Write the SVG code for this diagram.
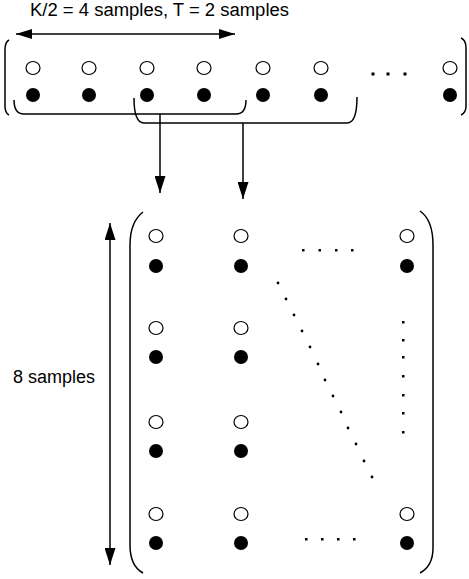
<svg xmlns="http://www.w3.org/2000/svg" width="469" height="579" viewBox="0 0 469 579">
<style>
.t{font-family:"Liberation Sans",Arial,sans-serif;font-size:18px;fill:#000}
.o{fill:#fff;stroke:#000;stroke-width:1.2}
.f{fill:#000}
.ln{fill:none;stroke:#000;stroke-width:1.5}
.d{fill:#000}
</style>
<defs>
<marker id="ahv" markerWidth="17" markerHeight="11" refX="17" refY="5.5" orient="auto-start-reverse" markerUnits="userSpaceOnUse" viewBox="0 0 17 11">
<path d="M0,0 L17,5.5 L0,11 Z" fill="#000"/>
</marker>
<marker id="ah2" markerWidth="16" markerHeight="10" refX="16" refY="5" orient="auto-start-reverse" markerUnits="userSpaceOnUse" viewBox="0 0 16 10">
<path d="M0,0 L16,5 L0,10 Z" fill="#000"/>
</marker>
</defs>

<g id="label-top"><text class="t" x="30" y="16" textLength="259" lengthAdjust="spacingAndGlyphs">K/2 = 4 samples, T = 2 samples</text></g>
<g id="label-left"><text class="t" x="13" y="383">8 samples</text></g>

<g id="sequence">
<path class="ln" d="M9,40 Q5,42 5,50 V106 Q5,113 9,115"/>
<path class="ln" d="M461,38 Q466,40 466,48 V106 Q466,113 461,115"/>
<ellipse class="o" cx="33" cy="68" rx="7" ry="6.5"/><circle class="f" cx="33" cy="95" r="7"/>
<ellipse class="o" cx="89" cy="68" rx="7" ry="6.5"/><circle class="f" cx="89" cy="95" r="7"/>
<ellipse class="o" cx="147" cy="68" rx="7" ry="6.5"/><circle class="f" cx="147" cy="95" r="7"/>
<ellipse class="o" cx="204" cy="68" rx="7" ry="6.5"/><circle class="f" cx="204" cy="95" r="7"/>
<ellipse class="o" cx="263" cy="68" rx="7" ry="6.5"/><circle class="f" cx="263" cy="95" r="7"/>
<ellipse class="o" cx="321" cy="68" rx="7" ry="6.5"/><circle class="f" cx="321" cy="95" r="7"/>
<ellipse class="o" cx="450" cy="68" rx="7" ry="6.5"/><circle class="f" cx="450" cy="95" r="7"/>
<rect class="d" x="371.5" y="72.5" width="3" height="3"/>
<rect class="d" x="386.5" y="72.5" width="3" height="3"/>
<rect class="d" x="403.5" y="72.5" width="3" height="3"/>
</g>

<g id="matrix">
<path class="ln" d="M143,212 Q130,222 130,245 V545 Q130,566 143,573"/>
<path class="ln" d="M420,211 Q433,220 433,245 V548 Q433,566 420,573"/>
<ellipse class="o" cx="156" cy="236" rx="7" ry="6.5"/><circle class="f" cx="156" cy="266" r="7"/>
<ellipse class="o" cx="241" cy="236" rx="7" ry="6.5"/><circle class="f" cx="241" cy="266" r="7"/>
<ellipse class="o" cx="407" cy="236" rx="7" ry="6.5"/><circle class="f" cx="407" cy="266" r="7"/>
<ellipse class="o" cx="156" cy="328" rx="7" ry="6.5"/><circle class="f" cx="156" cy="357" r="7"/>
<ellipse class="o" cx="241" cy="328" rx="7" ry="6.5"/><circle class="f" cx="241" cy="357" r="7"/>
<ellipse class="o" cx="156" cy="422" rx="7" ry="6.5"/><circle class="f" cx="156" cy="451" r="7"/>
<ellipse class="o" cx="241" cy="422" rx="7" ry="6.5"/><circle class="f" cx="241" cy="451" r="7"/>
<ellipse class="o" cx="156" cy="514" rx="7" ry="6.5"/><circle class="f" cx="156" cy="543" r="7"/>
<ellipse class="o" cx="241" cy="514" rx="7" ry="6.5"/><circle class="f" cx="241" cy="543" r="7"/>
<ellipse class="o" cx="407" cy="514" rx="7" ry="6.5"/><circle class="f" cx="407" cy="543" r="7"/>
<g class="d">
<rect x="302" y="249" width="2.5" height="2.5"/><rect x="318.5" y="249" width="2.5" height="2.5"/><rect x="335" y="249" width="2.5" height="2.5"/><rect x="351" y="249" width="2.5" height="2.5"/>
<rect x="305" y="538" width="2.5" height="2.5"/><rect x="321" y="538" width="2.5" height="2.5"/><rect x="337" y="538" width="2.5" height="2.5"/><rect x="353" y="538" width="2.5" height="2.5"/>
<rect x="402" y="321" width="2.5" height="2.5"/><rect x="402" y="339" width="2.5" height="2.5"/><rect x="402" y="356" width="2.5" height="2.5"/><rect x="402" y="375" width="2.5" height="2.5"/><rect x="402" y="394" width="2.5" height="2.5"/><rect x="402" y="412" width="2.5" height="2.5"/><rect x="402" y="431" width="2.5" height="2.5"/>
<circle cx="278" cy="283" r="1.4"/><circle cx="286" cy="299" r="1.4"/><circle cx="294" cy="315" r="1.4"/><circle cx="302" cy="331" r="1.4"/><circle cx="310" cy="347" r="1.4"/><circle cx="318" cy="364" r="1.4"/><circle cx="325" cy="380" r="1.4"/><circle cx="333" cy="396" r="1.4"/><circle cx="341" cy="412" r="1.4"/><circle cx="348" cy="428" r="1.4"/><circle cx="356" cy="444" r="1.4"/><circle cx="364" cy="461" r="1.4"/><circle cx="372" cy="477" r="1.4"/>
</g>
</g>

<g id="connectors">
<line class="ln" x1="16" y1="34" x2="235" y2="34" marker-start="url(#ah2)" marker-end="url(#ah2)"/>
<path class="ln" d="M14,100 Q14,114 24,114 H236 Q246,114 246,100"/>
<path class="ln" d="M134,98 Q134,123 144,123 H347 Q357,123 357,97"/>
<line class="ln" x1="160" y1="114" x2="160" y2="193" marker-end="url(#ahv)"/>
<line class="ln" x1="243" y1="123" x2="243" y2="199" marker-end="url(#ahv)"/>
<line class="ln" x1="110" y1="223" x2="110" y2="565" marker-start="url(#ahv)" marker-end="url(#ahv)"/>
</g>
</svg>
